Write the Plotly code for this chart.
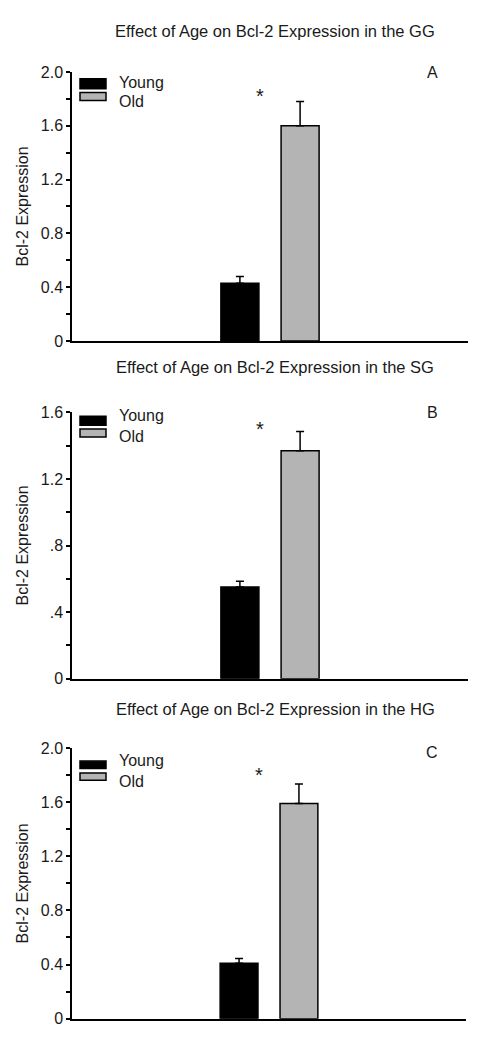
import plotly.graph_objects as go

# ---- data ----
groups = ["Young", "Old"]
regions = ["GG", "SG", "HG"]
panel_letters = ["A", "B", "C"]
gg_means = [0.43, 1.60]
gg_sem = [0.05, 0.18]
sg_means = [0.55, 1.37]
sg_sem = [0.035, 0.115]
hg_means = [0.41, 1.59]
hg_sem = [0.035, 0.145]
gg_ticks = [0, 0.4, 0.8, 1.2, 1.6, 2.0]
gg_ticktext = ["0", "0.4", "0.8", "1.2", "1.6", "2.0"]
sg_ticks = [0, 0.4, 0.8, 1.2, 1.6]
sg_ticktext = ["0", ".4", ".8", "1.2", "1.6"]
hg_ticks = [0, 0.4, 0.8, 1.2, 1.6, 2.0]
hg_ticktext = ["0", "0.4", "0.8", "1.2", "1.6", "2.0"]
y_max = [2.0, 1.6, 2.0]
star_y = [1.82, 1.50, 1.80]

means = [gg_means, sg_means, hg_means]
sems = [gg_sem, sg_sem, hg_sem]
ticks = [gg_ticks, sg_ticks, hg_ticks]
ticktexts = [gg_ticktext, sg_ticktext, hg_ticktext]

# ---- style ----
W, H = 479, 1050
FONT = "Liberation Sans, Arial, sans-serif"
bar_colors = ["#000000", "#b4b4b4"]
bar_offsets = [-0.124, 0.028]
bar_width = 0.096
panel_px = [(65, 338.5, 72, 468), (411, 681.7, 72, 468), (752.3, 1027.3, 72, 466)]
title_px = [23, 365, 713]
letter_px = [66, 411, 757]
# legend key boxes (top, bottom) per group and label centres, in pixels
key_box_px = [[(72, 82), (86, 94)], [(415, 424), (428, 436)], [(765.5, 773), (777.5, 785)]]
key_text_px = [[75.5, 95.5], [414.5, 436], [765, 786]]
key_x_px = (80, 106, 117)

fig = go.Figure()
layout = dict(
    width=W, height=H, autosize=False,
    margin=dict(l=0, r=0, t=0, b=0),
    paper_bgcolor="white", plot_bgcolor="white",
    font=dict(family=FONT, size=16, color="#1a1a1a"),
    barmode="overlay",
    showlegend=False,
)
annotations = []
shapes = []

for i in range(3):
    sfx = "" if i == 0 else str(i + 1)
    xa, ya = "x" + sfx, "y" + sfx
    for g in range(2):
        fig.add_trace(go.Bar(
            x=[regions[i]], y=[means[i][g]], name=groups[g],
            xaxis=xa, yaxis=ya,
            width=bar_width, offset=bar_offsets[g],
            marker=dict(color=bar_colors[g], line=dict(color="black", width=1.5)),
            error_y=dict(type="data", array=[sems[i][g]], arrayminus=[0],
                         symmetric=False, color="black", thickness=1.5, width=4),
        ))
        # key
        t, b = key_box_px[i][g]
        shapes.append(dict(
            type="rect", xref="paper", yref="paper",
            x0=key_x_px[0] / W, x1=key_x_px[1] / W, y0=1 - b / H, y1=1 - t / H,
            fillcolor=bar_colors[g], line=dict(color="black", width=1.5),
        ))
        annotations.append(dict(
            text=groups[g], xref="paper", yref="paper",
            x=key_x_px[2] / W, y=1 - key_text_px[i][g] / H,
            xanchor="left", yanchor="middle", showarrow=False, font=dict(size=16),
        ))
    top, bot, xl, xr = panel_px[i]
    layout["xaxis" + sfx] = dict(
        domain=[xl / W, xr / W], anchor=ya, type="category", range=[-0.5, 0.5],
        showline=True, linecolor="black", linewidth=1.5, ticks="",
        showticklabels=False, showgrid=False, zeroline=False, fixedrange=True,
    )
    layout["yaxis" + sfx] = dict(
        domain=[1 - bot / H, 1 - top / H], anchor=xa, range=[0, y_max[i]],
        showline=True, linecolor="black", linewidth=1.5,
        ticks="outside", ticklen=4, tickwidth=1.5, tickcolor="black",
        tickvals=ticks[i], ticktext=ticktexts[i],
        minor=dict(dtick=0.2, ticks="outside", ticklen=4, tickwidth=1.5, tickcolor="black"),
        tickfont=dict(size=16),
        showgrid=False, zeroline=False, fixedrange=True,
        title=dict(text="Bcl-2 Expression", font=dict(size=16), standoff=8),
    )
    annotations.append(dict(
        text="Effect of Age on Bcl-2 Expression in the " + regions[i],
        xref="paper", yref="paper", x=275 / W, y=1 - title_px[i] / H,
        xanchor="center", yanchor="middle", showarrow=False, font=dict(size=16.5),
    ))
    annotations.append(dict(
        text=panel_letters[i], xref="paper", yref="paper",
        x=432 / W, y=1 - letter_px[i] / H, xanchor="center", yanchor="middle",
        showarrow=False, font=dict(size=16),
    ))
    annotations.append(dict(
        text="*", xref=xa, yref=ya, x=regions[i], y=star_y[i], xshift=-10,
        xanchor="center", yanchor="middle", showarrow=False, font=dict(size=20),
    ))

layout["annotations"] = annotations
layout["shapes"] = shapes
fig.update_layout(**layout)
fig.write_html("out.html", config={"displayModeBar": False},
               post_script="document.body.style.margin='0';document.documentElement.style.overflow='hidden';")
